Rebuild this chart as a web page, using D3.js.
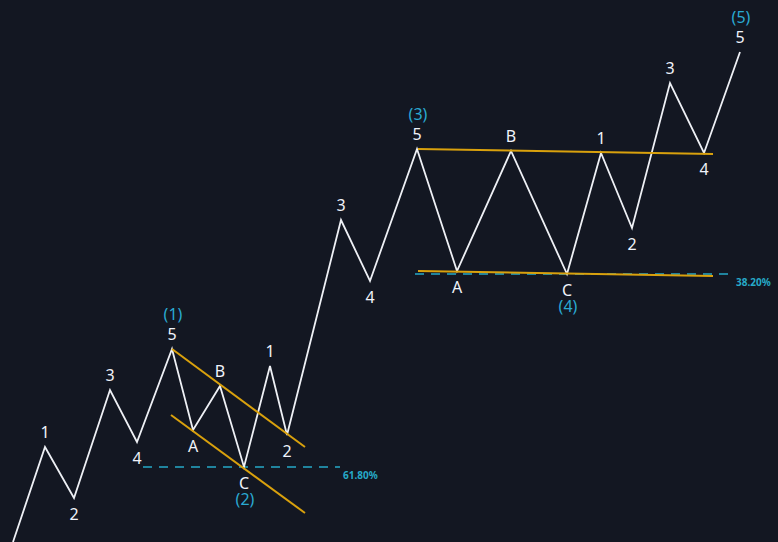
<!DOCTYPE html>
<html lang="en">
<head>
  <meta charset="UTF-8">
  <title>Elliott Wave</title>
  <script src="https://d3js.org/d3.v7.min.js"></script>
  <style>
    html, body { margin: 0; padding: 0; background: #131722; }
    svg { display: block; }
    .wave-label { font-family: "Noto Sans", sans-serif; font-size: 16px; fill: #f0f3fa; }
    .degree-label { font-family: "Noto Sans", sans-serif; font-size: 16px; fill: #2aa9d2; }
    .fib-label { font-family: "Noto Sans", sans-serif; font-size: 10px; font-weight: bold; fill: #26a9c8; }
  </style>
</head>
<body>
  <div id="chart"></div>
  <script>
    // wave vertices: bar index and price
    const bars   = [13, 45, 74, 110, 137, 172, 193, 220, 244, 270, 287, 341, 370, 417, 457, 511, 567, 601, 632, 670, 704, 740];
    const prices = [0, 95, 44, 152, 100, 193, 112, 156, 75, 176, 107, 322, 261, 393, 271, 391, 268, 389, 314, 459, 389, 490];
    const waveLabels   = ["", "1", "2", "3", "4", "5", "A", "B", "C", "1", "2", "3", "4", "5", "A", "B", "C", "1", "2", "3", "4", "5"];
    const degreeLabels = ["", "", "", "", "", "(1)", "", "", "(2)", "", "", "", "", "(3)", "", "", "(4)", "", "", "", "", "(5)"];

    // trend channels [bar1, price1, bar2, price2]
    const channels = [
      [172, 193, 305, 95],
      [171, 127, 305, 29],
      [418, 393, 713, 388],
      [418, 271, 713, 266]
    ];

    // fibonacci retracement levels
    const fibNames  = ["61.80%", "38.20%"];
    const fibPrices = [75, 268];
    const fibStart  = [143, 415];
    const fibEnd    = [340, 733];

    const width = 778, height = 542;

    const x = d3.scaleLinear().domain([0, 778]).range([0, width]);
    const y = d3.scaleLinear().domain([0, 542]).range([height, 0]);

    const svg = d3.select("#chart").append("svg")
      .attr("width", width)
      .attr("height", height);

    svg.append("rect").attr("width", width).attr("height", height).attr("fill", "#131722");

    // fib dashed lines
    fibNames.forEach((name, i) => {
      svg.append("line")
        .attr("x1", x(fibStart[i])).attr("x2", x(fibEnd[i]))
        .attr("y1", y(fibPrices[i])).attr("y2", y(fibPrices[i]))
        .attr("stroke", "#26a9c8")
        .attr("stroke-width", 1.5)
        .attr("stroke-dasharray", "9,7");
      svg.append("text")
        .attr("class", "fib-label")
        .attr("x", x(fibEnd[i]) + 3)
        .attr("y", y(fibPrices[i]) + 8)
        .attr("dy", "0.35em")
        .text(name);
    });

    const points = bars.map((b, i) => ({ bar: b, price: prices[i], label: waveLabels[i], degree: degreeLabels[i] }));

    // wave line
    svg.append("path")
      .datum(points)
      .attr("fill", "none")
      .attr("stroke", "#eef0f5")
      .attr("stroke-width", 1.8)
      .attr("stroke-linejoin", "miter")
      .attr("d", d3.line().x(d => x(d.bar)).y(d => y(d.price)));

    // channels on top
    svg.selectAll(".channel")
      .data(channels)
      .enter()
      .append("line")
      .attr("class", "channel")
      .attr("x1", d => x(d[0])).attr("y1", d => y(d[1]))
      .attr("x2", d => x(d[2])).attr("y2", d => y(d[3]))
      .attr("stroke", "#d9a10d")
      .attr("stroke-width", 2);

    // labels: peaks above, troughs below
    points.forEach((p, i) => {
      if (!p.label) return;
      const prev = points[i - 1];
      const isPeak = p.price > prev.price;
      const ly = isPeak ? y(p.price) - 15 : y(p.price) + 16;
      svg.append("text")
        .attr("class", "wave-label")
        .attr("x", x(p.bar))
        .attr("y", ly)
        .attr("dy", "0.35em")
        .attr("text-anchor", "middle")
        .text(p.label);
      if (p.degree) {
        svg.append("text")
          .attr("class", "degree-label")
          .attr("x", x(p.bar) + 1)
          .attr("y", isPeak ? ly - 20 : ly + 16)
          .attr("dy", "0.35em")
          .attr("text-anchor", "middle")
          .text(p.degree);
      }
    });
  </script>
</body>
</html>
